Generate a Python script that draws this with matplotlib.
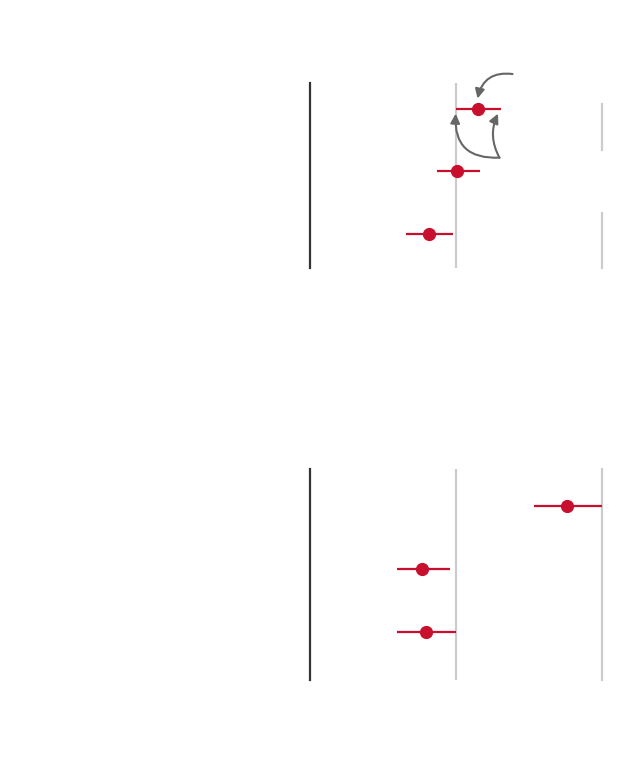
"""Two-panel dot-and-whisker chart (point estimates with intervals)."""

import matplotlib
matplotlib.use('Agg')
import matplotlib.pyplot as plt

RED = '#c8102e'
GRID = '#cccccc'
SPINE = '#333333'
ARROW = '#666666'

# Panel 1 (top)
top_est = [1.15, 1.01, 0.82]
top_lo = [1.00, 0.87, 0.66]
top_hi = [1.31, 1.17, 0.98]

# Panel 2 (bottom)
bot_est = [1.76, 0.77, 0.80]
bot_lo = [1.54, 0.60, 0.60]
bot_hi = [2.00, 0.96, 1.00]

XLIM = (0, 2)


def draw_panel(ax, est, lo, hi, ylim):
    rows = list(range(len(est)))
    ax.hlines(rows, lo, hi, color=RED, lw=1.6, zorder=3)
    ax.plot(est, rows, 'o', color=RED, ms=8.5, zorder=4)
    ax.set_xlim(*XLIM)
    ax.set_ylim(*ylim)
    for s in ('top', 'right', 'bottom'):
        ax.spines[s].set_visible(False)
    ax.spines['left'].set_color(SPINE)
    ax.spines['left'].set_linewidth(1.6)
    ax.set_xticks([])
    ax.set_yticks([])
    ax.patch.set_alpha(0)


def main():
    fig = plt.figure(figsize=(6.4, 7.8), dpi=100)
    ax1 = fig.add_axes([0.484, 0.656, 0.456, 0.237])
    ax2 = fig.add_axes([0.484, 0.128, 0.456, 0.2705])

    # ═══ top panel ═══
    draw_panel(ax1, top_est, top_lo, top_hi, (2.54, -0.40))
    ax1.axvline(1, color=GRID, lw=1.6, zorder=1)
    # right reference line is broken where the labels sit
    ax1.axvline(2, ymin=0.64, ymax=0.89, color=GRID, lw=1.6, zorder=1, clip_on=False)
    ax1.axvline(2, ymin=0.0, ymax=0.30, color=GRID, lw=1.6, zorder=1, clip_on=False)

    arrow_kw = dict(arrowstyle='-|>', color=ARROW, lw=1.5, mutation_scale=14,
                    shrinkA=0, shrinkB=0)
    ax1.annotate('', xy=(top_est[0], -0.16), xytext=(1.39, -0.55),
                 annotation_clip=False,
                 arrowprops=dict(connectionstyle='arc3,rad=0.45', **arrow_kw))
    ax1.annotate('', xy=(top_lo[0], 0.08), xytext=(1.30, 0.78),
                 annotation_clip=False,
                 arrowprops=dict(connectionstyle='arc3,rad=-0.55', **arrow_kw))
    ax1.annotate('', xy=(1.29, 0.08), xytext=(1.30, 0.78),
                 annotation_clip=False,
                 arrowprops=dict(connectionstyle='arc3,rad=-0.25', **arrow_kw))

    # ═══ bottom panel ═══
    draw_panel(ax2, bot_est, bot_lo, bot_hi, (2.76, -0.59))
    ax2.axvline(1, color=GRID, lw=1.6, zorder=1)
    ax2.axvline(2, color=GRID, lw=1.6, zorder=1, clip_on=False)

    fig.savefig('out.png', dpi=100, facecolor='white')


if __name__ == '__main__':
    main()
